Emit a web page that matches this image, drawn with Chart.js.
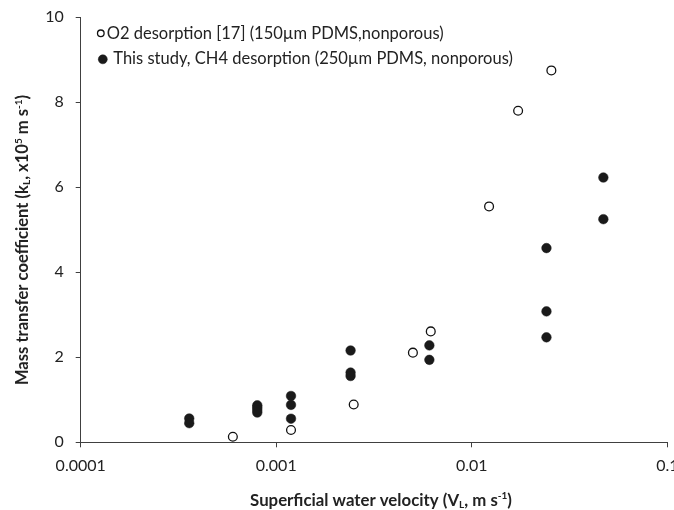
<!DOCTYPE html>
<html><head><meta charset="utf-8">
<script src="https://cdn.jsdelivr.net/npm/chart.js@4.4.1/dist/chart.umd.min.js"></script>
<style>html,body{margin:0;padding:0;background:#fff}#wrap{width:674px;height:510px;position:relative}</style>
</head>
<body>
<div id="wrap"><canvas id="c" width="674" height="510"></canvas></div>
<script>
// ---- data ----
const o2Label = 'O2 desorption [17] (150µm PDMS,nonporous)';
const o2Velocity = [0.0006, 0.00119, 0.00249, 0.0050, 0.00617, 0.01226, 0.01726, 0.02553];
const o2Coefficient = [0.13, 0.29, 0.89, 2.11, 2.61, 5.55, 7.80, 8.75];

const ch4Label = 'This study, CH4 desorption (250µm PDMS, nonporous)';
const ch4Velocity = [0.000359, 0.000359, 0.0008, 0.0008, 0.0008, 0.0008, 0.00119, 0.00119, 0.00119, 0.0024, 0.0024, 0.0024, 0.00607, 0.00607, 0.0241, 0.0241, 0.0241, 0.0471, 0.0471];
const ch4Coefficient = [0.56, 0.45, 0.87, 0.82, 0.76, 0.70, 1.09, 0.88, 0.555, 2.16, 1.64, 1.56, 2.28, 1.94, 4.57, 3.08, 2.47, 6.23, 5.25];

const xTickValues = [0.0001, 0.001, 0.01, 0.1];
const xTickLabels = ['0.0001', '0.001', '0.01', '0.1'];
const yTickValues = [0, 2, 4, 6, 8, 10];
const yTickLabels = ['0', '2', '4', '6', '8', '10'];

const xTitle = [{t: 'Superficial water velocity (V'}, {t: 'L', sub: true}, {t: ', m s'}, {t: '-1', sup: true}, {t: ')'}];
const yTitle = [{t: 'Mass transfer coefficient (k'}, {t: 'L', sub: true}, {t: ', x10'}, {t: '5', sup: true}, {t: ' m s'}, {t: '-1', sup: true}, {t: ')'}];

// ---- styling ----
const FONT = 'Lato';
const TEXT = '#222222';
const AXIS = '#404040';

function pts(xs, ys) { return xs.map((x, i) => ({x: x, y: ys[i]})); }

function layoutRich(ctx, segs, size) {
  let w = 0;
  const small = Math.round(size * 0.62);
  const out = [];
  for (const s of segs) {
    const fs = (s.sub || s.sup) ? small : size;
    ctx.font = 'bold ' + fs + 'px "' + FONT + '"';
    const sw = ctx.measureText(s.t).width;
    out.push({s, fs, x: w});
    w += sw;
  }
  return {w, out};
}
function paintRich(ctx, layout, size) {
  for (const o of layout.out) {
    ctx.font = 'bold ' + o.fs + 'px "' + FONT + '"';
    let dy = 0;
    if (o.s.sub) dy = size * 0.14;
    if (o.s.sup) dy = -size * 0.38;
    ctx.fillText(o.s.t, o.x, dy);
  }
}

const titlesAndLegend = {
  id: 'titlesAndLegend',
  afterDraw(chart) {
    const ctx = chart.ctx;
    const area = chart.chartArea;
    ctx.save();
    ctx.fillStyle = TEXT;
    ctx.textBaseline = 'alphabetic';
    ctx.textAlign = 'left';
    // x title
    const xs = 16.8;
    const lx = layoutRich(ctx, xTitle, xs);
    ctx.save();
    ctx.translate(381 - lx.w / 2, 505.5);
    paintRich(ctx, lx, xs);
    ctx.restore();
    // y title
    const ys = 16.6;
    const ly = layoutRich(ctx, yTitle, ys);
    ctx.save();
    ctx.translate(28, 240 + ly.w / 2);
    ctx.rotate(-Math.PI / 2);
    paintRich(ctx, ly, ys);
    ctx.restore();
    // legend (inside plot area, top-left)
    const items = [
      {mx: 100.8, my: 33.3, r: 3.3, tx: 106.7, ty: 38.6},
      {mx: 102.8, my: 59.3, r: 4.5, tx: 113.3, ty: 64.4}
    ];
    chart.data.datasets.forEach((ds, i) => {
      const it = items[i];
      ctx.beginPath();
      ctx.arc(it.mx, it.my, it.r, 0, Math.PI * 2);
      ctx.fillStyle = ds.backgroundColor;
      ctx.fill();
      ctx.lineWidth = ds.borderWidth;
      ctx.strokeStyle = ds.borderColor;
      ctx.stroke();
      ctx.fillStyle = TEXT;
      ctx.font = '16.5px "' + FONT + '"';
      ctx.fillText(ds.label, it.tx, it.ty);
    });
    ctx.restore();
  }
};

const chart = new Chart(document.getElementById('c'), {
  type: 'scatter',
  data: {
    datasets: [
      {
        label: o2Label,
        data: pts(o2Velocity, o2Coefficient),
        pointStyle: 'circle',
        pointRadius: 4.4,
        pointHoverRadius: 4.4,
        backgroundColor: '#ffffff',
        borderColor: '#111111',
        borderWidth: 1.3
      },
      {
        label: ch4Label,
        data: pts(ch4Velocity, ch4Coefficient),
        pointStyle: 'circle',
        pointRadius: 4.8,
        pointHoverRadius: 4.8,
        backgroundColor: '#1a1a1a',
        borderColor: '#1a1a1a',
        borderWidth: 0.5
      }
    ]
  },
  options: {
    responsive: false,
    animation: false,
    devicePixelRatio: 1,
    events: [],
    layout: {padding: {left: 0, right: 6.7, top: 17.3, bottom: 0}},
    plugins: {legend: {display: false}, tooltip: {enabled: false}, title: {display: false}},
    scales: {
      x: {
        type: 'logarithmic',
        min: 0.0001,
        max: 0.1,
        afterBuildTicks: (s) => { s.ticks = xTickValues.map(v => ({value: v})); },
        afterFit: (s) => { s.height = 510 - 442.3; s.paddingLeft = 0; s.paddingRight = 0; },
        ticks: {
          autoSkip: false,
          maxRotation: 0,
          minRotation: 0,
          padding: 9,
          color: TEXT,
          font: {family: FONT, size: 16},
          callback: (v, i) => xTickLabels[xTickValues.indexOf(v)] ?? ''
        },
        grid: {display: true, drawOnChartArea: false, drawTicks: true, tickLength: 5, color: AXIS, lineWidth: 1},
        border: {display: true, color: AXIS, width: 1}
      },
      y: {
        type: 'linear',
        min: 0,
        max: 10,
        afterBuildTicks: (s) => { s.ticks = yTickValues.map(v => ({value: v})); },
        afterFit: (s) => { s.width = 80.7; s.paddingTop = 0; s.paddingBottom = 0; },
        ticks: {
          padding: 12,
          color: TEXT,
          font: {family: FONT, size: 16},
          callback: (v) => yTickLabels[yTickValues.indexOf(v)] ?? ''
        },
        grid: {display: true, drawOnChartArea: false, drawTicks: true, tickLength: 5, color: AXIS, lineWidth: 1},
        border: {display: true, color: AXIS, width: 1}
      }
    }
  },
  plugins: [titlesAndLegend]
});
document.fonts && document.fonts.ready.then(() => chart.update());
</script>
</body></html>
